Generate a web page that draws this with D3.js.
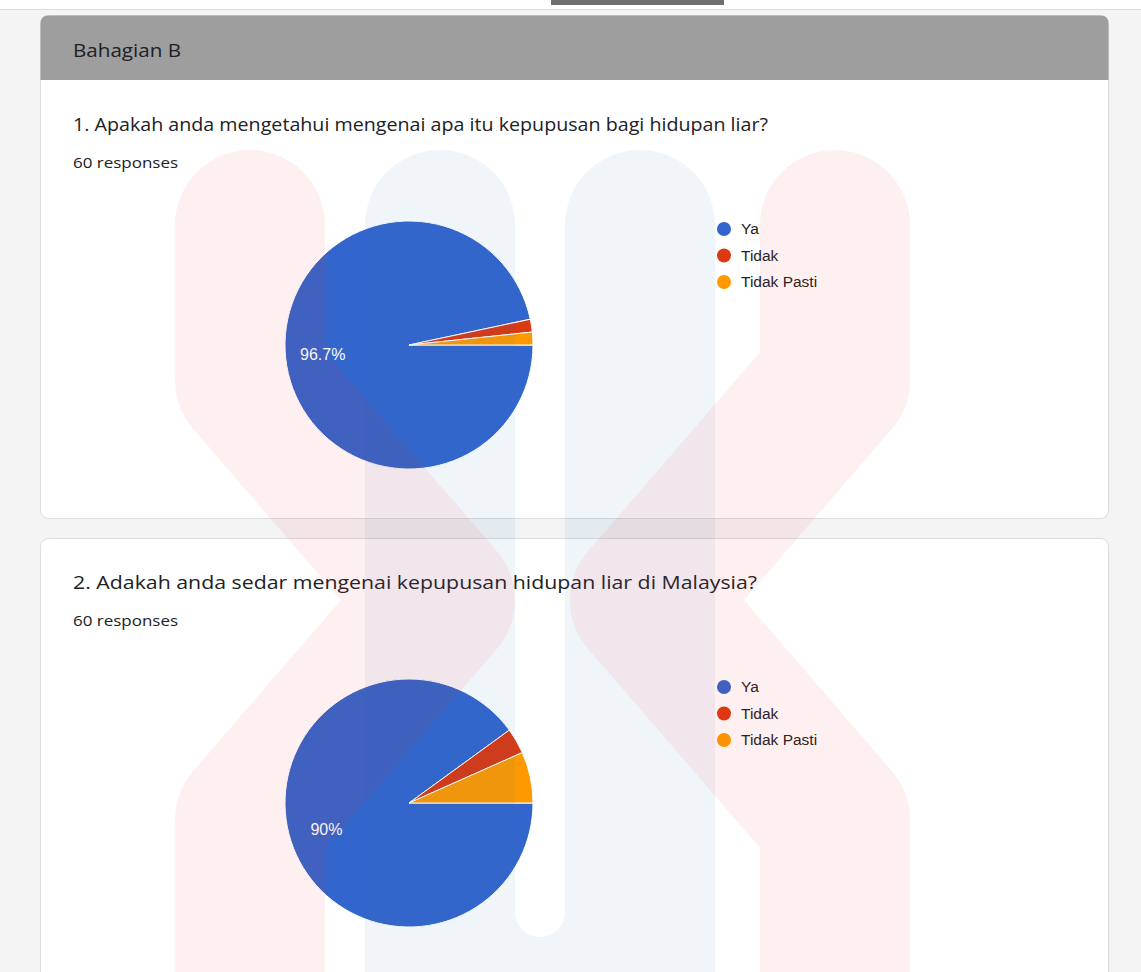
<!DOCTYPE html>
<html>
<head>
<meta charset="utf-8">
<script src="https://cdn.jsdelivr.net/npm/d3@7"></script>
<style>
  html, body { margin: 0; padding: 0; background: #f4f4f4; }
  svg { display: block; }
  .gs { font-family: "Open Sans", Roboto, sans-serif; }
  .ch { font-family: "Liberation Sans", Arial, sans-serif; }
</style>
</head>
<body>
<div id="chart"></div>
<script>
var sectionTitle = "Bahagian B";
var categories = ["Ya", "Tidak", "Tidak Pasti"];
var colors = ["#3366cc", "#dc3912", "#ff9900"];

var questions = [
  "1. Apakah anda mengetahui mengenai apa itu kepupusan bagi hidupan liar?",
  "2. Adakah anda sedar mengenai kepupusan hidupan liar di Malaysia?"
];
var responseCounts = [60, 60];
var q1Values = [58, 1, 1];
var q2Values = [54, 2, 4];

var width = 1141;
var height = 972;

var svg = d3
  .select("#chart")
  .append("svg")
  .attr("width", width)
  .attr("height", height);

// page background + top bar
svg.append("rect").attr("width", width).attr("height", height).attr("fill", "#f4f4f4");
svg.append("rect").attr("width", width).attr("height", 9).attr("fill", "#ffffff");
svg.append("rect").attr("y", 9).attr("width", width).attr("height", 1).attr("fill", "#dcdcdc");
svg.append("rect").attr("x", 551).attr("y", 0).attr("width", 173).attr("height", 5).attr("fill", "#6f6f6f");

var cards = [
  { y: 15, h: 503, header: true, q: 0, values: q1Values, qWidth: 695 },
  { y: 538, h: 460, header: false, q: 1, values: q2Values, qWidth: 684 }
];

var pie = d3
  .pie()
  .sort(null)
  .startAngle(Math.PI / 2)
  .endAngle(Math.PI / 2 + 2 * Math.PI);

var radius = 124;
var arc = d3.arc().innerRadius(0).outerRadius(radius);
var labelArc = d3.arc().innerRadius(radius * 0.7).outerRadius(radius * 0.7);

cards.forEach((c) => {
  var g = svg.append("g").attr("transform", "translate(40," + c.y + ")");
  g.append("rect")
    .attr("x", 0.5)
    .attr("y", 0.5)
    .attr("width", 1068)
    .attr("height", c.h)
    .attr("rx", 8)
    .attr("fill", "#ffffff")
    .attr("stroke", "#dadce0");

  var top = 0;
  if (c.header) {
    g.append("path")
      .attr("d", "M0.5,65 L0.5,8.5 Q0.5,0.5 8.5,0.5 L1060.5,0.5 Q1068.5,0.5 1068.5,8.5 L1068.5,65 Z")
      .attr("fill", "#9e9e9e");
    g.append("text")
      .attr("class", "gs")
      .attr("x", 33)
      .attr("y", 42)
      .attr("font-size", 18)
      .attr("textLength", 108)
      .attr("lengthAdjust", "spacingAndGlyphs")
      .attr("fill", "#202124")
      .text(sectionTitle);
    top = 65;
  }

  g.append("text")
    .attr("class", "gs")
    .attr("x", 33)
    .attr("y", top + 51)
    .attr("font-size", 18.5)
    .attr("textLength", c.qWidth)
    .attr("lengthAdjust", "spacingAndGlyphs")
    .attr("fill", "#202124")
    .text(questions[c.q]);
  g.append("text")
    .attr("class", "gs")
    .attr("x", 33)
    .attr("y", top + 88)
    .attr("font-size", 14.5)
    .attr("textLength", 105)
    .attr("lengthAdjust", "spacingAndGlyphs")
    .attr("fill", "#202124")
    .text(responseCounts[c.q] + " responses");

  var cy = top + 265;
  var pg = g.append("g").attr("transform", "translate(369," + cy + ")");
  var total = d3.sum(c.values);
  var arcs = pie(c.values);
  pg.selectAll("path")
    .data(arcs)
    .join("path")
    .attr("d", arc)
    .attr("fill", (d, i) => colors[i])
    .attr("stroke", "#ffffff")
    .attr("stroke-width", 1);
  // only the big slice gets a label, like in the form summary
  pg.selectAll("text")
    .data(arcs.filter((d) => d.value / total > 0.1))
    .join("text")
    .attr("class", "ch")
    .attr("transform", (d) => "translate(" + labelArc.centroid(d) + ")")
    .attr("text-anchor", "middle")
    .attr("dy", "0.35em")
    .attr("font-size", 16)
    .attr("fill", "#ffffff")
    .text((d) => {
      var p = Math.round((d.value / total) * 1000) / 10;
      return p + "%";
    });

  var lg = g.append("g").attr("transform", "translate(684," + (top + 149) + ")");
  categories.forEach((cat, i) => {
    lg.append("circle")
      .attr("cx", 0)
      .attr("cy", i * 26.5)
      .attr("r", 7)
      .attr("fill", colors[i]);
    lg.append("text")
      .attr("class", "ch")
      .attr("x", 17)
      .attr("y", i * 26.5)
      .attr("dy", "0.35em")
      .attr("font-size", 15.5)
      .attr("fill", "#222222")
      .text(cat);
  });
});

// faint watermark overlay
var wm = svg.append("g").attr("pointer-events", "none");
var line = d3.line();
[440, 640].forEach((x) => {
  wm.append("path")
    .attr("d", line([[x, 225], [x, 1000]]))
    .attr("stroke", "rgb(40,120,190)")
    .attr("stroke-opacity", 0.07)
    .attr("stroke-width", 150)
    .attr("stroke-linecap", "round")
    .attr("fill", "none");
});
wm.append("path")
  .attr("d", "M515,975 L515,912 A25,25 0 0 0 565,912 L565,975 Z")
  .attr("fill", "rgb(40,120,190)")
  .attr("fill-opacity", 0.07);
[[250, 440], [835, 645]].forEach((p) => {
  wm.append("path")
    .attr("d", line([[p[0], 225], [p[0], 380], [p[1], 600], [p[0], 820], [p[0], 1050]]))
    .attr("stroke", "rgb(240,40,40)")
    .attr("stroke-opacity", 0.07)
    .attr("stroke-width", 150)
    .attr("stroke-linecap", "round")
    .attr("stroke-linejoin", "round")
    .attr("fill", "none");
});
</script>
</body>
</html>
